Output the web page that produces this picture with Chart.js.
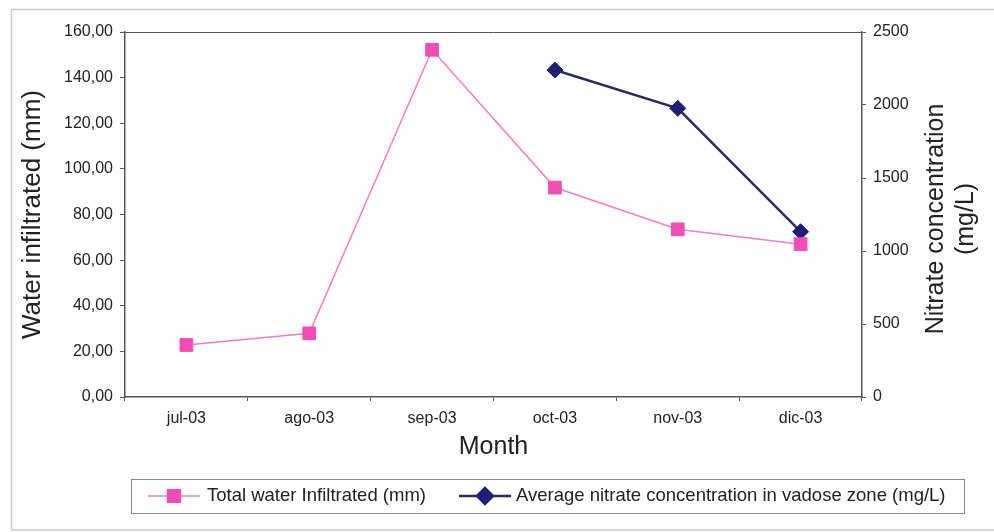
<!DOCTYPE html>
<html>
<head>
<meta charset="utf-8">
<script src="https://cdn.jsdelivr.net/npm/chart.js@4/dist/chart.umd.min.js"></script>
<style>
  html, body { margin: 0; padding: 0; background: #fff; }
  #wrap { width: 994px; height: 532px; position: relative; }
</style>
</head>
<body>
<div id="wrap"><canvas id="chart" width="994" height="532"></canvas></div>
<script>
// --- datos ---
const months = ['jul-03', 'ago-03', 'sep-03', 'oct-03', 'nov-03', 'dic-03'];
const waterInfiltrated = [22.8, 27.9, 152.2, 91.8, 73.5, 67.0];      // mm
const nitrateConc = [null, null, null, 2240, 1977, 1132];             // mg/L
const leftTicks = [0, 20, 40, 60, 80, 100, 120, 140, 160];
const rightTicks = [0, 500, 1000, 1500, 2000, 2500];

const FONT = '"Liberation Sans", Arial, sans-serif';
const PINK = '#f24db6';
const PINK_LINE = '#f27cc6';
const NAVY = '#1f1f78';
const NAVY_LINE = '#2b2b5e';
const AXIS = '#555';

// marco exterior, borde superior del area y titulo derecho
const framePlugin = {
  id: 'frame',
  beforeDraw(chart) {
    const ctx = chart.ctx;
    ctx.save();
    ctx.fillStyle = '#fff';
    ctx.fillRect(0, 0, chart.width, chart.height);
    ctx.strokeStyle = '#c9c9c9';
    ctx.lineWidth = 1.5;
    ctx.strokeRect(11.5, 9.5, 1000, 520.5);
    ctx.restore();
  },
  afterDraw(chart) {
    const ctx = chart.ctx;
    const a = chart.chartArea;
    ctx.save();
    ctx.strokeStyle = AXIS;
    ctx.lineWidth = 1;
    ctx.beginPath();
    ctx.moveTo(a.left, a.top + 0.5);
    ctx.lineTo(a.right, a.top + 0.5);
    ctx.stroke();

    // titulo del eje derecho, en dos lineas
    ctx.fillStyle = '#222';
    ctx.font = '25px ' + FONT;
    ctx.textAlign = 'center';
    ctx.textBaseline = 'middle';
    ctx.translate(936, 219);
    ctx.rotate(-Math.PI / 2);
    ctx.fillText('Nitrate concentration', 0, 0);
    ctx.fillText('(mg/L)', 0, 30);
    ctx.restore();
  }
};

// leyenda con linea + marcador, dentro de un recuadro
const legendPlugin = {
  id: 'boxLegend',
  afterDraw(chart) {
    const ctx = chart.ctx;
    ctx.save();
    ctx.strokeStyle = '#888';
    ctx.lineWidth = 1;
    ctx.strokeRect(131.5, 479.5, 833, 34);
    const y = 496;
    const items = [
      { ds: chart.data.datasets[0], x0: 148, x1: 200, tx: 207 },
      { ds: chart.data.datasets[1], x0: 459, x1: 511, tx: 516 }
    ];
    ctx.font = '18.5px ' + FONT;
    ctx.textBaseline = 'middle';
    ctx.textAlign = 'left';
    items.forEach(it => {
      const ds = it.ds;
      ctx.strokeStyle = ds.borderColor;
      ctx.lineWidth = ds.borderWidth;
      ctx.beginPath();
      ctx.moveTo(it.x0, y);
      ctx.lineTo(it.x1, y);
      ctx.stroke();
      ctx.fillStyle = ds.pointBackgroundColor;
      ctx.strokeStyle = ds.pointBorderColor;
      Chart.helpers.drawPoint(ctx, {
        pointStyle: ds.pointStyle, radius: ds.pointRadius, rotation: 0, borderWidth: 1
      }, (it.x0 + it.x1) / 2, y);
      ctx.fillStyle = '#222';
      ctx.fillText(ds.label, it.tx, y);
    });
    ctx.restore();
  }
};

const ctx = document.getElementById('chart').getContext('2d');
new Chart(ctx, {
  type: 'line',
  data: {
    labels: months,
    datasets: [
      {
        label: 'Total water Infiltrated (mm)',
        data: waterInfiltrated,
        yAxisID: 'y',
        borderColor: PINK_LINE,
        borderWidth: 1.5,
        pointStyle: 'rect',
        pointRadius: 9,
        pointBackgroundColor: PINK,
        pointBorderColor: PINK,
        pointBorderWidth: 1,
        tension: 0
      },
      {
        label: 'Average nitrate concentration in vadose zone (mg/L)',
        data: nitrateConc,
        yAxisID: 'y1',
        borderColor: NAVY_LINE,
        borderWidth: 2.5,
        pointStyle: 'rectRot',
        pointRadius: 8,
        pointBackgroundColor: NAVY,
        pointBorderColor: NAVY,
        pointBorderWidth: 1,
        spanGaps: false,
        tension: 0
      }
    ]
  },
  options: {
    responsive: false,
    animation: false,
    layout: { padding: { left: 0, right: 0, top: 32, bottom: 70 } },
    plugins: { legend: { display: false }, tooltip: { enabled: false } },
    scales: {
      x: {
        offset: true,
        grid: { display: true, drawOnChartArea: false, offset: true, tickLength: 4, color: AXIS },
        border: { color: AXIS, width: 1.5 },
        ticks: { color: '#222', font: { family: FONT, size: 16 }, padding: 8, maxRotation: 0 },
        title: { display: true, text: 'Month', color: '#222', font: { family: FONT, size: 25 }, padding: 0 },
        afterFit(s) { s.height = 65; }
      },
      y: {
        position: 'left',
        min: 0, max: 160,
        afterBuildTicks(s) { s.ticks = leftTicks.map(v => ({ value: v })); },
        grid: { display: true, drawOnChartArea: false, tickLength: 5, color: AXIS },
        border: { color: AXIS, width: 1.5 },
        ticks: {
          color: '#222', font: { family: FONT, size: 16 }, padding: 7,
          callback: v => v.toFixed(2).replace('.', ',')
        },
        title: { display: true, text: 'Water infiltrated (mm)', color: '#222', font: { family: FONT, size: 26 }, padding: { top: 17, bottom: 0 } },
        afterFit(s) { s.width = 125; }
      },
      y1: {
        position: 'right',
        min: 0, max: 2500,
        afterBuildTicks(s) { s.ticks = rightTicks.map(v => ({ value: v })); },
        grid: { display: true, drawOnChartArea: false, tickLength: 4, color: AXIS },
        border: { color: AXIS, width: 1.5 },
        ticks: { color: '#222', font: { family: FONT, size: 16 }, padding: 7, callback: v => String(v) },
        afterFit(s) { s.width = 132; }
      }
    }
  },
  plugins: [framePlugin, legendPlugin]
});
</script>
</body>
</html>
